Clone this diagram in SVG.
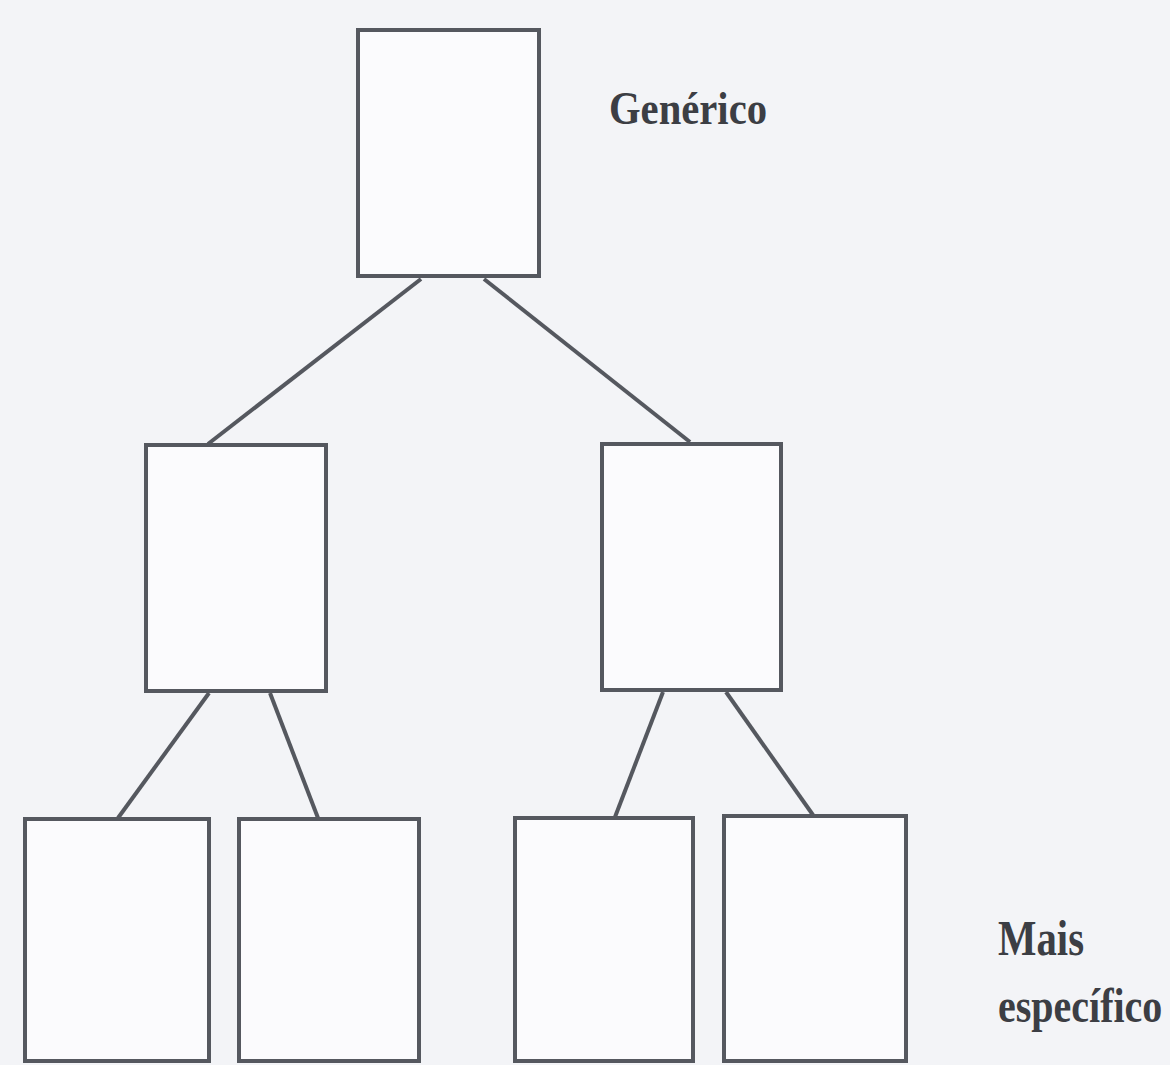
<svg xmlns="http://www.w3.org/2000/svg" width="1170" height="1065" viewBox="0 0 1170 1065">
<style>
.box{fill:#fbfbfd;stroke:#55585f;stroke-width:4}
.con{stroke:#55585f;stroke-width:4;fill:none}
.lbl{font-family:"Liberation Serif","DejaVu Serif",serif;font-weight:bold;fill:#3c3e44}
</style>
<rect width="1170" height="1065" fill="#f3f4f7"/>
<g id="connectors">
<line class="con" x1="421" y1="279" x2="208" y2="444"/>
<line class="con" x1="484" y1="279" x2="690" y2="442"/>
<line class="con" x1="209" y1="693" x2="118" y2="818"/>
<line class="con" x1="270" y1="693" x2="318" y2="818"/>
<line class="con" x1="663" y1="692" x2="615" y2="817"/>
<line class="con" x1="726" y1="692" x2="813" y2="815"/>
</g>
<g id="n-root"><rect class="box" x="358" y="30" width="181" height="246"/></g>
<g id="n-mid-left"><rect class="box" x="146" y="445" width="180" height="246"/></g>
<g id="n-mid-right"><rect class="box" x="602" y="444" width="179" height="246"/></g>
<g id="n-leaf-1"><rect class="box" x="25" y="819" width="184" height="242"/></g>
<g id="n-leaf-2"><rect class="box" x="239" y="819" width="180" height="242"/></g>
<g id="n-leaf-3"><rect class="box" x="515" y="818" width="178" height="243"/></g>
<g id="n-leaf-4"><rect class="box" x="724" y="816" width="182" height="245"/></g>
<g id="labels">
<text class="lbl" x="609" y="124" font-size="47" textLength="158" lengthAdjust="spacingAndGlyphs">Genérico</text>
<text class="lbl" x="998" y="955" font-size="50" textLength="86" lengthAdjust="spacingAndGlyphs">Mais</text>
<text class="lbl" transform="translate(998,1022) scale(1,1.2)" x="0" y="0" font-size="40">específico</text>
</g>
</svg>
